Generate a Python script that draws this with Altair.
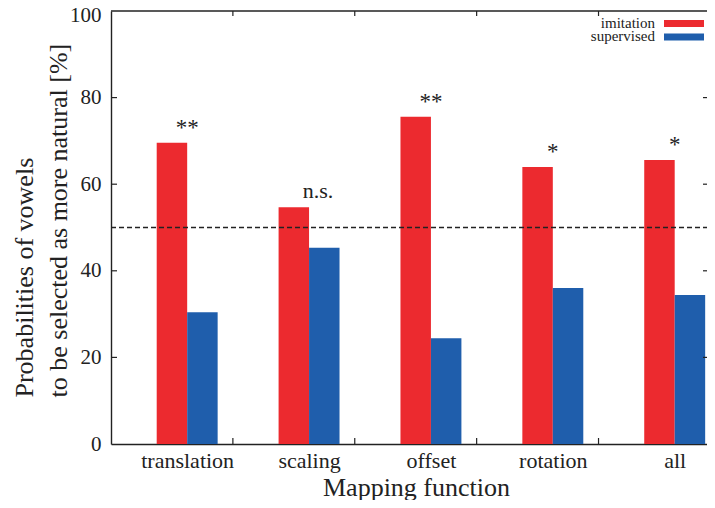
import json
import altair as alt
import pandas as pd

categories = ["translation", "scaling", "offset", "rotation", "all"]
imitation = [69.6, 54.7, 75.6, 64.0, 65.6]
supervised = [30.4, 45.3, 24.4, 36.0, 34.4]
significance = ["**", "n.s.", "**", "*", "*"]
series_names = ["imitation", "supervised"]
series_colors = ["#EC2A2F", "#1F5EAC"]
y_tick_values = [0, 20, 40, 60, 80, 100]
chance_level = [50]

W, H = 596, 433
FONT = "Liberation Serif"
INK = "#222222"

rows = []
for i, c in enumerate(categories):
    rows.append({"category": c, "idx": i, "series": series_names[0],
                 "value": imitation[i], "sig": significance[i]})
    rows.append({"category": c, "idx": i, "series": series_names[1],
                 "value": supervised[i], "sig": significance[i]})
df = pd.DataFrame(rows)

n = len(categories)
xscale = alt.Scale(domain=[0, n - 0.11], nice=False, zero=False)
yscale = alt.Scale(domain=[0, 100], nice=False)
label_vals = [i + 0.625 for i in range(n)]
label_expr = json.dumps(categories) + "[round(datum.value - 0.625)]"

xaxis = alt.Axis(values=label_vals, labelExpr=label_expr, title="Mapping function",
                 tickSize=0, labelPadding=23, labelBaseline="alphabetic",
                 labelFontSize=22, labelFont=FONT, labelColor=INK,
                 titleFont=FONT, titleFontSize=26, titleFontWeight="normal",
                 titleColor=INK, titleBaseline="alphabetic", titleY=51, titleX=305,
                 domainColor=INK, domainWidth=1.4, grid=False, labelFlush=False)
yaxis = alt.Axis(values=y_tick_values, tickSize=0, labelPadding=10,
                 labelFontSize=21, labelFont=FONT, labelColor=INK,
                 labelOffset={"condition": {"test": f"datum.value == {y_tick_values[-1]}",
                                            "value": 4}, "value": 0},
                 title=["Probabilities of vowels", "to be selected as more natural [%]"],
                 titleFont=FONT, titleFontSize=26, titleFontWeight="normal",
                 titleColor=INK, titleAngle=-90, titleAlign="left",
                 titleBaseline="top", titleX=-100, titleY=386, titleLineHeight=34,
                 domainColor=INK, domainWidth=1.4, grid=False, labelFlush=False)


def X(field):
    return alt.X(field, scale=xscale, axis=xaxis)


def Y(field):
    return alt.Y(field, scale=yscale, axis=yaxis)


bars = alt.Chart(df).mark_rect().transform_calculate(
    start=f"datum.idx + (datum.series == '{series_names[0]}' ? 0.375 : 0.625)",
).transform_calculate(
    end="datum.start + 0.25"
).encode(
    x=X("start:Q"),
    x2="end:Q",
    y=Y("value:Q"),
    y2=alt.datum(0),
    color=alt.Color("series:N", scale=alt.Scale(domain=series_names, range=series_colors),
                    legend=None),
)

sig_df = df[df["series"] == series_names[0]]
sig_base = alt.Chart(sig_df).transform_calculate(center="datum.idx + 0.625")
sig_text = sig_base.transform_filter("datum.sig != 'n.s.'").mark_text(
    font=FONT, fontSize=23, color=INK, baseline="alphabetic", dy=-8
).encode(x=X("center:Q"), y=Y("value:Q"), text="sig:N")
ns_text = sig_base.transform_filter("datum.sig == 'n.s.'").mark_text(
    font=FONT, fontSize=22, color=INK, baseline="alphabetic", dy=-9, dx=9
).encode(x=X("center:Q"), y=Y("value:Q"), text="sig:N")

chance_df = pd.DataFrame({"v": chance_level})
chance = alt.Chart(chance_df).mark_rule(
    color=INK, strokeDash=[5, 3], strokeWidth=1.6
).encode(y=Y("v:Q"), x=alt.value(0), x2=alt.value(W))

ytick_df = pd.DataFrame({"v": y_tick_values[1:-1]})
left_ticks = alt.Chart(ytick_df).mark_rule(color=INK, strokeWidth=1.2).encode(
    y=Y("v:Q"), x=alt.value(0), x2=alt.value(6))
right_ticks = alt.Chart(ytick_df).mark_rule(color=INK, strokeWidth=1.2).encode(
    y=Y("v:Q"), x=alt.value(W - 4), x2=alt.value(W))

xtick_df = pd.DataFrame({"t": list(range(1, n))})
bottom_ticks = alt.Chart(xtick_df).mark_rule(color=INK, strokeWidth=1.2).encode(
    x=X("t:Q"), y=alt.value(H), y2=alt.value(H - 6))
top_ticks = alt.Chart(xtick_df).mark_rule(color=INK, strokeWidth=1.2).encode(
    x=X("t:Q"), y=alt.value(0), y2=alt.value(5))

top_frame = alt.Chart(chance_df).mark_rule(color=INK, strokeWidth=1.4).encode(
    x=alt.value(0), x2=alt.value(W), y=alt.value(0))

legend_df = pd.DataFrame({"series": series_names, "color": series_colors})
legend_layers = []
for k, name in enumerate(series_names):
    sub = alt.Chart(legend_df).transform_filter(f"datum.series == '{name}'")
    legend_layers.append(
        sub.mark_rect(color=series_colors[k]).encode(
            x=alt.value(553), x2=alt.value(593),
            y=alt.value(9 + 13.5 * k), y2=alt.value(16 + 13.5 * k))
    )
    legend_layers.append(
        sub.mark_text(font=FONT, fontSize=15, color=INK, align="right",
                      baseline="alphabetic").encode(
            x=alt.value(544), y=alt.value(16.5 + 13.5 * k), text="series:N")
    )

chart = alt.layer(
    bars, chance, sig_text, ns_text, left_ticks, right_ticks, bottom_ticks, top_ticks,
    top_frame, *legend_layers
).properties(
    width=W, height=H,
    autosize=alt.AutoSizeParams(type="none"),
    padding={"left": 103, "top": 3, "right": 0, "bottom": 56},
    background="white",
).configure_view(stroke=None)

chart.save("out.html", embed_options={"renderer": "svg", "actions": False})
